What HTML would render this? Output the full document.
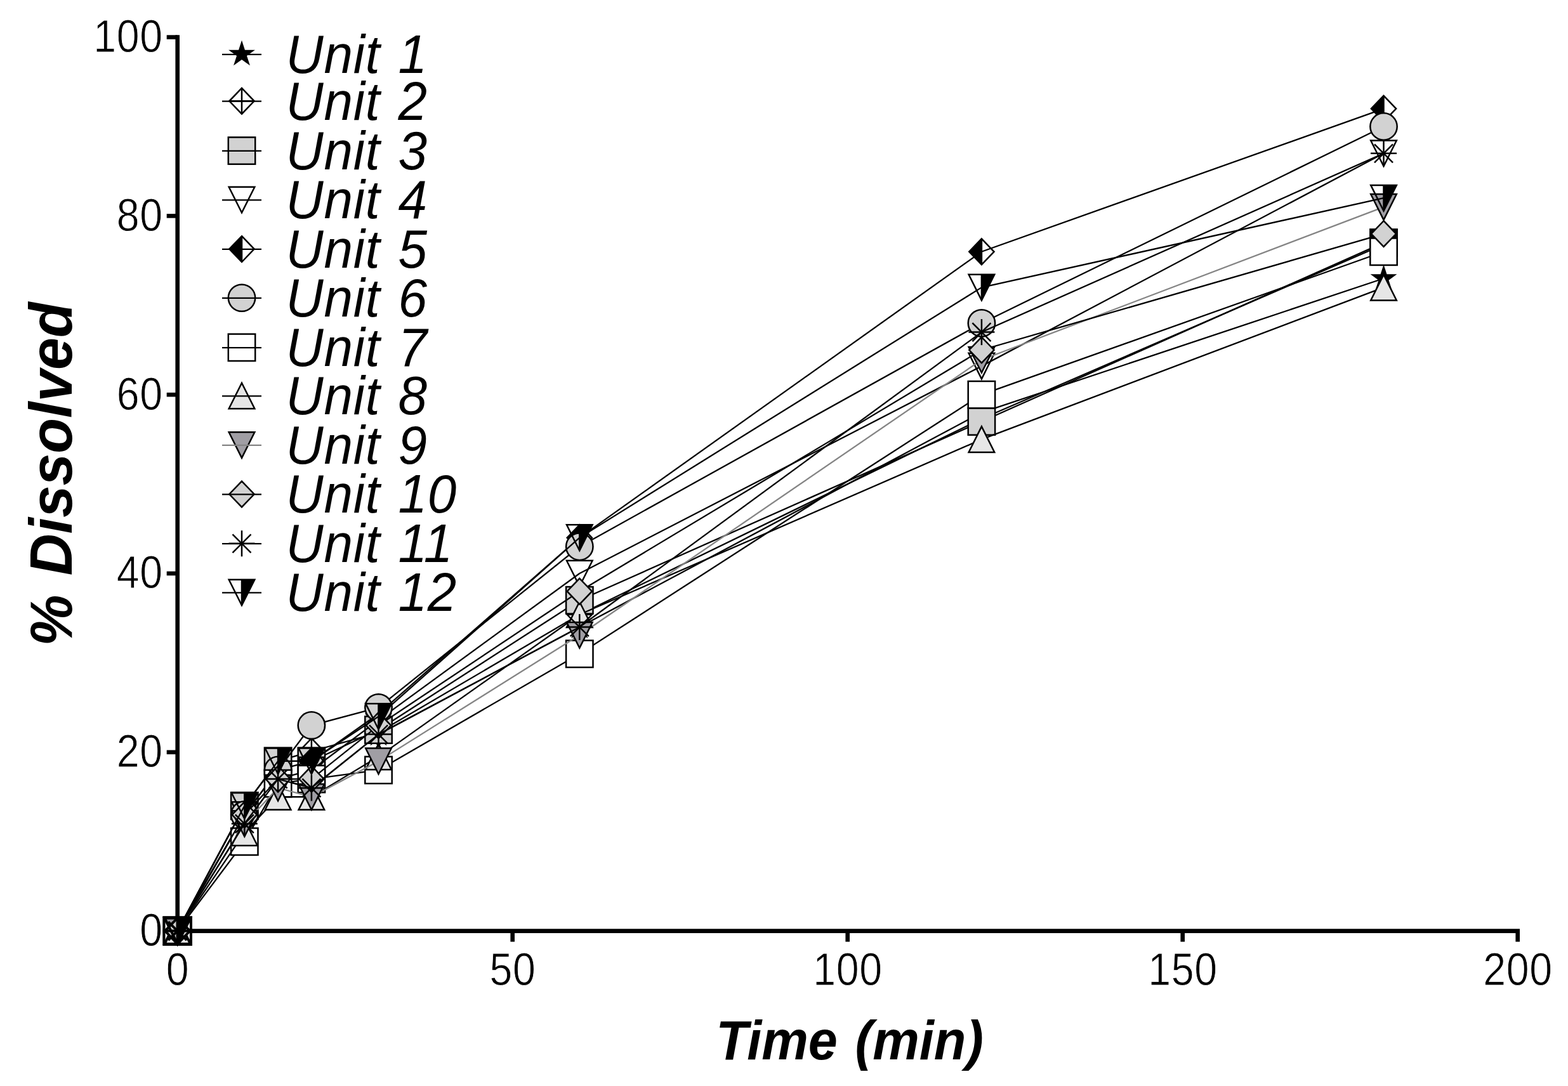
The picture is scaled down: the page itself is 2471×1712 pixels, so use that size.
<!DOCTYPE html>
<html lang="en"><head><meta charset="utf-8"><title>Dissolution profiles of individual units</title>
<style>
html,body{margin:0;padding:0;background:#fff;}
body{width:2471px;height:1712px;overflow:hidden;}
svg{display:block;}
text{font-family:"Liberation Sans",Arial,Helvetica,sans-serif;fill:#000;}
.tick{font-size:72.4px;letter-spacing:0.7px;}
.leg{font-size:85.2px;font-style:italic;word-spacing:4.6px;letter-spacing:0.9px;}
.xt{font-size:86.2px;word-spacing:5px;font-weight:bold;font-style:italic;}
.yt{font-size:95px;word-spacing:5px;font-weight:bold;font-style:italic;}
</style></head><body>
<svg width="2471" height="1712" viewBox="0 0 2471 1712">
<rect width="2471" height="1712" fill="#fff"/>
<g id="axes" stroke="#000" stroke-width="6.6" fill="none">
<line x1="279.7" y1="55.3" x2="279.7" y2="1470.9"/>
<line x1="276.4" y1="1467.6" x2="2395" y2="1467.6"/>
<line x1="262.7" y1="1467.6" x2="279.7" y2="1467.6"/>
<line x1="262.7" y1="1185.8" x2="279.7" y2="1185.8"/>
<line x1="262.7" y1="904" x2="279.7" y2="904"/>
<line x1="262.7" y1="622.2" x2="279.7" y2="622.2"/>
<line x1="262.7" y1="340.4" x2="279.7" y2="340.4"/>
<line x1="262.7" y1="58.6" x2="279.7" y2="58.6"/>
<line x1="279.7" y1="1467.6" x2="279.7" y2="1484.6"/>
<line x1="807.7" y1="1467.6" x2="807.7" y2="1484.6"/>
<line x1="1335.7" y1="1467.6" x2="1335.7" y2="1484.6"/>
<line x1="1863.7" y1="1467.6" x2="1863.7" y2="1484.6"/>
<line x1="2391.7" y1="1467.6" x2="2391.7" y2="1484.6"/>
</g>
<g id="series" fill="none">
<g>
<polyline points="279.7,1467.6 385.3,1298.52 438.1,1228.07 490.9,1242.16 596.5,1157.62 913.3,988.54 1546.9,650.38 2180.5,439.03" fill="none" stroke="#000" stroke-width="2.3" stroke-linejoin="round"/>
<polygon points="279.7,1445.6 284.64,1460.8 300.62,1460.8 287.69,1470.2 292.63,1485.4 279.7,1476 266.77,1485.4 271.71,1470.2 258.78,1460.8 274.76,1460.8" fill="#000"/>
<polygon points="385.3,1276.52 390.24,1291.72 406.22,1291.72 393.29,1301.12 398.23,1316.32 385.3,1306.92 372.37,1316.32 377.31,1301.12 364.38,1291.72 380.36,1291.72" fill="#000"/>
<polygon points="438.1,1206.07 443.04,1221.27 459.02,1221.27 446.09,1230.67 451.03,1245.87 438.1,1236.47 425.17,1245.87 430.11,1230.67 417.18,1221.27 433.16,1221.27" fill="#000"/>
<polygon points="490.9,1220.16 495.84,1235.36 511.82,1235.36 498.89,1244.76 503.83,1259.96 490.9,1250.56 477.97,1259.96 482.91,1244.76 469.98,1235.36 485.96,1235.36" fill="#000"/>
<polygon points="596.5,1135.62 601.44,1150.82 617.42,1150.82 604.49,1160.22 609.43,1175.42 596.5,1166.02 583.57,1175.42 588.51,1160.22 575.58,1150.82 591.56,1150.82" fill="#000"/>
<polygon points="913.3,966.54 918.24,981.74 934.22,981.74 921.29,991.14 926.23,1006.34 913.3,996.94 900.37,1006.34 905.31,991.14 892.38,981.74 908.36,981.74" fill="#000"/>
<polygon points="1546.9,628.38 1551.84,643.58 1567.82,643.58 1554.89,652.98 1559.83,668.18 1546.9,658.78 1533.97,668.18 1538.91,652.98 1525.98,643.58 1541.96,643.58" fill="#000"/>
<polygon points="2180.5,417.03 2185.44,432.23 2201.42,432.23 2188.49,441.63 2193.43,456.83 2180.5,447.43 2167.57,456.83 2172.51,441.63 2159.58,432.23 2175.56,432.23" fill="#000"/>
</g>
<g>
<polyline points="279.7,1467.6 385.3,1270.34 438.1,1199.89 490.9,1184.39 596.5,1154.8 913.3,968.81 1546.9,660.24 2180.5,385.49" fill="none" stroke="#000" stroke-width="2.3" stroke-linejoin="round"/>
<g><polygon points="279.7,1447.2 299.3,1467.6 279.7,1488 260.1,1467.6" fill="none" stroke="#000" stroke-width="4"/><line x1="260.1" y1="1467.6" x2="299.3" y2="1467.6" stroke="#000" stroke-width="4"/><line x1="279.7" y1="1447.2" x2="279.7" y2="1488" stroke="#000" stroke-width="4"/></g>
<g><polygon points="385.3,1249.94 404.9,1270.34 385.3,1290.74 365.7,1270.34" fill="none" stroke="#000" stroke-width="2.5"/><line x1="365.7" y1="1270.34" x2="404.9" y2="1270.34" stroke="#000" stroke-width="2.5"/><line x1="385.3" y1="1249.94" x2="385.3" y2="1290.74" stroke="#000" stroke-width="2.5"/></g>
<g><polygon points="438.1,1179.49 457.7,1199.89 438.1,1220.29 418.5,1199.89" fill="none" stroke="#000" stroke-width="2.5"/><line x1="418.5" y1="1199.89" x2="457.7" y2="1199.89" stroke="#000" stroke-width="2.5"/><line x1="438.1" y1="1179.49" x2="438.1" y2="1220.29" stroke="#000" stroke-width="2.5"/></g>
<g><polygon points="490.9,1163.99 510.5,1184.39 490.9,1204.79 471.3,1184.39" fill="none" stroke="#000" stroke-width="2.5"/><line x1="471.3" y1="1184.39" x2="510.5" y2="1184.39" stroke="#000" stroke-width="2.5"/><line x1="490.9" y1="1163.99" x2="490.9" y2="1204.79" stroke="#000" stroke-width="2.5"/></g>
<g><polygon points="596.5,1134.4 616.1,1154.8 596.5,1175.2 576.9,1154.8" fill="none" stroke="#000" stroke-width="2.5"/><line x1="576.9" y1="1154.8" x2="616.1" y2="1154.8" stroke="#000" stroke-width="2.5"/><line x1="596.5" y1="1134.4" x2="596.5" y2="1175.2" stroke="#000" stroke-width="2.5"/></g>
<g><polygon points="913.3,948.41 932.9,968.81 913.3,989.21 893.7,968.81" fill="none" stroke="#000" stroke-width="2.5"/><line x1="893.7" y1="968.81" x2="932.9" y2="968.81" stroke="#000" stroke-width="2.5"/><line x1="913.3" y1="948.41" x2="913.3" y2="989.21" stroke="#000" stroke-width="2.5"/></g>
<g><polygon points="1546.9,639.84 1566.5,660.24 1546.9,680.64 1527.3,660.24" fill="none" stroke="#000" stroke-width="2.5"/><line x1="1527.3" y1="660.24" x2="1566.5" y2="660.24" stroke="#000" stroke-width="2.5"/><line x1="1546.9" y1="639.84" x2="1546.9" y2="680.64" stroke="#000" stroke-width="2.5"/></g>
<g><polygon points="2180.5,365.09 2200.1,385.49 2180.5,405.89 2160.9,385.49" fill="none" stroke="#000" stroke-width="2.5"/><line x1="2160.9" y1="385.49" x2="2200.1" y2="385.49" stroke="#000" stroke-width="2.5"/><line x1="2180.5" y1="365.09" x2="2180.5" y2="405.89" stroke="#000" stroke-width="2.5"/></g>
</g>
<g>
<polyline points="279.7,1467.6 385.3,1270.34 438.1,1199.89 490.9,1199.89 596.5,1150.57 913.3,946.27 1546.9,664.47 2180.5,382.67" fill="none" stroke="#000" stroke-width="2.3" stroke-linejoin="round"/>
<rect x="258.5" y="1446.4" width="42.4" height="42.4" fill="#d2d2d2" stroke="#000" stroke-width="4" stroke-linejoin="miter"/>
<rect x="364.1" y="1249.14" width="42.4" height="42.4" fill="#d2d2d2" stroke="#000" stroke-width="2.5" stroke-linejoin="miter"/>
<rect x="416.9" y="1178.69" width="42.4" height="42.4" fill="#d2d2d2" stroke="#000" stroke-width="2.5" stroke-linejoin="miter"/>
<rect x="469.7" y="1178.69" width="42.4" height="42.4" fill="#d2d2d2" stroke="#000" stroke-width="2.5" stroke-linejoin="miter"/>
<rect x="575.3" y="1129.37" width="42.4" height="42.4" fill="#d2d2d2" stroke="#000" stroke-width="2.5" stroke-linejoin="miter"/>
<rect x="892.1" y="925.07" width="42.4" height="42.4" fill="#d2d2d2" stroke="#000" stroke-width="2.5" stroke-linejoin="miter"/>
<rect x="1525.7" y="643.27" width="42.4" height="42.4" fill="#d2d2d2" stroke="#000" stroke-width="2.5" stroke-linejoin="miter"/>
<rect x="2159.3" y="361.47" width="42.4" height="42.4" fill="#000" stroke="#000" stroke-width="2.5" stroke-linejoin="miter"/>
</g>
<g>
<polyline points="279.7,1467.6 385.3,1284.43 438.1,1228.07 490.9,1213.98 596.5,1135.08 913.3,904 1546.9,577.11 2180.5,241.77" fill="none" stroke="#000" stroke-width="2.3" stroke-linejoin="round"/>
<polygon points="259.4,1447.3 300,1447.3 279.7,1487.9" fill="none" stroke="#000" stroke-width="4"/>
<polygon points="365,1264.13 405.6,1264.13 385.3,1304.73" fill="none" stroke="#000" stroke-width="2.5"/>
<polygon points="417.8,1207.77 458.4,1207.77 438.1,1248.37" fill="none" stroke="#000" stroke-width="2.5"/>
<polygon points="470.6,1193.68 511.2,1193.68 490.9,1234.28" fill="none" stroke="#000" stroke-width="2.5"/>
<polygon points="576.2,1114.78 616.8,1114.78 596.5,1155.38" fill="none" stroke="#000" stroke-width="2.5"/>
<polygon points="893,883.7 933.6,883.7 913.3,924.3" fill="none" stroke="#000" stroke-width="2.5"/>
<polygon points="1526.6,556.81 1567.2,556.81 1546.9,597.41" fill="none" stroke="#000" stroke-width="2.5"/>
<polygon points="2160.2,221.47 2200.8,221.47 2180.5,262.07" fill="none" stroke="#000" stroke-width="2.5"/>
</g>
<g>
<polyline points="279.7,1467.6 385.3,1284.43 438.1,1213.98 490.9,1199.89 596.5,1125.21 913.3,847.64 1546.9,396.76 2180.5,171.32" fill="none" stroke="#000" stroke-width="2.3" stroke-linejoin="round"/>
<g><polygon points="279.7,1447.2 279.7,1488 260.1,1467.6" fill="#000"/><polygon points="279.7,1447.2 299.3,1467.6 279.7,1488 260.1,1467.6" fill="none" stroke="#000" stroke-width="4"/><line x1="279.7" y1="1447.2" x2="279.7" y2="1488" stroke="#000" stroke-width="4"/></g>
<g><polygon points="385.3,1264.03 385.3,1304.83 365.7,1284.43" fill="#000"/><polygon points="385.3,1264.03 404.9,1284.43 385.3,1304.83 365.7,1284.43" fill="none" stroke="#000" stroke-width="2.5"/><line x1="385.3" y1="1264.03" x2="385.3" y2="1304.83" stroke="#000" stroke-width="2.5"/></g>
<g><polygon points="438.1,1193.58 438.1,1234.38 418.5,1213.98" fill="#000"/><polygon points="438.1,1193.58 457.7,1213.98 438.1,1234.38 418.5,1213.98" fill="none" stroke="#000" stroke-width="2.5"/><line x1="438.1" y1="1193.58" x2="438.1" y2="1234.38" stroke="#000" stroke-width="2.5"/></g>
<g><polygon points="490.9,1179.49 490.9,1220.29 471.3,1199.89" fill="#000"/><polygon points="490.9,1179.49 510.5,1199.89 490.9,1220.29 471.3,1199.89" fill="none" stroke="#000" stroke-width="2.5"/><line x1="490.9" y1="1179.49" x2="490.9" y2="1220.29" stroke="#000" stroke-width="2.5"/></g>
<g><polygon points="596.5,1104.81 596.5,1145.61 576.9,1125.21" fill="#000"/><polygon points="596.5,1104.81 616.1,1125.21 596.5,1145.61 576.9,1125.21" fill="none" stroke="#000" stroke-width="2.5"/><line x1="596.5" y1="1104.81" x2="596.5" y2="1145.61" stroke="#000" stroke-width="2.5"/></g>
<g><polygon points="913.3,827.24 913.3,868.04 893.7,847.64" fill="#000"/><polygon points="913.3,827.24 932.9,847.64 913.3,868.04 893.7,847.64" fill="none" stroke="#000" stroke-width="2.5"/><line x1="913.3" y1="827.24" x2="913.3" y2="868.04" stroke="#000" stroke-width="2.5"/></g>
<g><polygon points="1546.9,376.36 1546.9,417.16 1527.3,396.76" fill="#000"/><polygon points="1546.9,376.36 1566.5,396.76 1546.9,417.16 1527.3,396.76" fill="none" stroke="#000" stroke-width="2.5"/><line x1="1546.9" y1="376.36" x2="1546.9" y2="417.16" stroke="#000" stroke-width="2.5"/></g>
<g><polygon points="2180.5,150.92 2180.5,191.72 2160.9,171.32" fill="#000"/><polygon points="2180.5,150.92 2200.1,171.32 2180.5,191.72 2160.9,171.32" fill="none" stroke="#000" stroke-width="2.5"/><line x1="2180.5" y1="150.92" x2="2180.5" y2="191.72" stroke="#000" stroke-width="2.5"/></g>
</g>
<g>
<polyline points="279.7,1467.6 385.3,1284.43 438.1,1213.98 490.9,1143.53 596.5,1115.35 913.3,861.73 1546.9,509.48 2180.5,199.5" fill="none" stroke="#000" stroke-width="2.3" stroke-linejoin="round"/>
<circle cx="279.7" cy="1467.6" r="21.2" fill="#d2d2d2" stroke="#000" stroke-width="4" stroke-linejoin="miter"/>
<circle cx="385.3" cy="1284.43" r="21.2" fill="#d2d2d2" stroke="#000" stroke-width="2.5" stroke-linejoin="miter"/>
<circle cx="438.1" cy="1213.98" r="21.2" fill="#d2d2d2" stroke="#000" stroke-width="2.5" stroke-linejoin="miter"/>
<circle cx="490.9" cy="1143.53" r="21.2" fill="#d2d2d2" stroke="#000" stroke-width="2.5" stroke-linejoin="miter"/>
<circle cx="596.5" cy="1115.35" r="21.2" fill="#d2d2d2" stroke="#000" stroke-width="2.5" stroke-linejoin="miter"/>
<circle cx="913.3" cy="861.73" r="21.2" fill="#d2d2d2" stroke="#000" stroke-width="2.5" stroke-linejoin="miter"/>
<circle cx="1546.9" cy="509.48" r="21.2" fill="#d2d2d2" stroke="#000" stroke-width="2.5" stroke-linejoin="miter"/>
<circle cx="2180.5" cy="199.5" r="21.2" fill="#d2d2d2" stroke="#000" stroke-width="2.5" stroke-linejoin="miter"/>
</g>
<g>
<polyline points="279.7,1467.6 385.3,1326.7 438.1,1235.12 490.9,1228.07 596.5,1213.98 913.3,1030.81 1546.9,622.2 2180.5,396.76" fill="none" stroke="#000" stroke-width="2.3" stroke-linejoin="round"/>
<rect x="258.5" y="1446.4" width="42.4" height="42.4" fill="#fff" stroke="#000" stroke-width="4" stroke-linejoin="miter"/>
<rect x="364.1" y="1305.5" width="42.4" height="42.4" fill="#fff" stroke="#000" stroke-width="2.5" stroke-linejoin="miter"/>
<rect x="416.9" y="1213.91" width="42.4" height="42.4" fill="#fff" stroke="#000" stroke-width="2.5" stroke-linejoin="miter"/>
<rect x="469.7" y="1206.87" width="42.4" height="42.4" fill="#fff" stroke="#000" stroke-width="2.5" stroke-linejoin="miter"/>
<rect x="575.3" y="1192.78" width="42.4" height="42.4" fill="#fff" stroke="#000" stroke-width="2.5" stroke-linejoin="miter"/>
<rect x="892.1" y="1009.61" width="42.4" height="42.4" fill="#fff" stroke="#000" stroke-width="2.5" stroke-linejoin="miter"/>
<rect x="1525.7" y="601" width="42.4" height="42.4" fill="#fff" stroke="#000" stroke-width="2.5" stroke-linejoin="miter"/>
<rect x="2159.3" y="375.56" width="42.4" height="42.4" fill="#fff" stroke="#000" stroke-width="2.5" stroke-linejoin="miter"/>
</g>
<g>
<polyline points="279.7,1467.6 385.3,1312.61 438.1,1256.25 490.9,1256.25 596.5,1192.84 913.3,968.81 1546.9,692.65 2180.5,453.12" fill="none" stroke="#000" stroke-width="2.3" stroke-linejoin="round"/>
<polygon points="259.4,1487.9 300,1487.9 279.7,1447.3" fill="#e6e6e6" stroke="#000" stroke-width="4"/>
<polygon points="365,1332.91 405.6,1332.91 385.3,1292.31" fill="#e6e6e6" stroke="#000" stroke-width="2.5"/>
<polygon points="417.8,1276.55 458.4,1276.55 438.1,1235.95" fill="#e6e6e6" stroke="#000" stroke-width="2.5"/>
<polygon points="470.6,1276.55 511.2,1276.55 490.9,1235.95" fill="#e6e6e6" stroke="#000" stroke-width="2.5"/>
<polygon points="576.2,1213.14 616.8,1213.14 596.5,1172.54" fill="#e6e6e6" stroke="#000" stroke-width="2.5"/>
<polygon points="893,989.11 933.6,989.11 913.3,948.51" fill="#e6e6e6" stroke="#000" stroke-width="2.5"/>
<polygon points="1526.6,712.95 1567.2,712.95 1546.9,672.35" fill="#e6e6e6" stroke="#000" stroke-width="2.5"/>
<polygon points="2160.2,473.42 2200.8,473.42 2180.5,432.82" fill="#e6e6e6" stroke="#000" stroke-width="2.5"/>
</g>
<g>
<polyline points="279.7,1467.6 385.3,1298.52 438.1,1242.16 490.9,1256.25 596.5,1199.89 913.3,1001.22 1546.9,567.25 2180.5,326.31" fill="none" stroke="#848484" stroke-width="2.3" stroke-linejoin="round"/>
<polygon points="259.4,1447.3 300,1447.3 279.7,1487.9" fill="#a09ea4" stroke="#000" stroke-width="4"/>
<polygon points="365,1278.22 405.6,1278.22 385.3,1318.82" fill="#a09ea4" stroke="#000" stroke-width="2.5"/>
<polygon points="417.8,1221.86 458.4,1221.86 438.1,1262.46" fill="#a09ea4" stroke="#000" stroke-width="2.5"/>
<polygon points="470.6,1235.95 511.2,1235.95 490.9,1276.55" fill="#a09ea4" stroke="#000" stroke-width="2.5"/>
<polygon points="576.2,1179.59 616.8,1179.59 596.5,1220.19" fill="#a09ea4" stroke="#000" stroke-width="2.5"/>
<polygon points="893,980.92 933.6,980.92 913.3,1021.52" fill="#a09ea4" stroke="#000" stroke-width="2.5"/>
<polygon points="1526.6,546.95 1567.2,546.95 1546.9,587.55" fill="#a09ea4" stroke="#000" stroke-width="2.5"/>
<polygon points="2160.2,306.01 2200.8,306.01 2180.5,346.61" fill="#a09ea4" stroke="#000" stroke-width="2.5"/>
</g>
<g>
<polyline points="279.7,1467.6 385.3,1284.43 438.1,1228.07 490.9,1228.07 596.5,1143.53 913.3,932.18 1546.9,551.75 2180.5,368.58" fill="none" stroke="#000" stroke-width="2.3" stroke-linejoin="round"/>
<polygon points="279.7,1447.2 299.3,1467.6 279.7,1488 260.1,1467.6" fill="#d2d2d2" stroke="#000" stroke-width="4"/>
<polygon points="385.3,1264.03 404.9,1284.43 385.3,1304.83 365.7,1284.43" fill="#d2d2d2" stroke="#000" stroke-width="2.5"/>
<polygon points="438.1,1207.67 457.7,1228.07 438.1,1248.47 418.5,1228.07" fill="#d2d2d2" stroke="#000" stroke-width="2.5"/>
<polygon points="490.9,1207.67 510.5,1228.07 490.9,1248.47 471.3,1228.07" fill="#d2d2d2" stroke="#000" stroke-width="2.5"/>
<polygon points="596.5,1123.13 616.1,1143.53 596.5,1163.93 576.9,1143.53" fill="#d2d2d2" stroke="#000" stroke-width="2.5"/>
<polygon points="913.3,911.78 932.9,932.18 913.3,952.58 893.7,932.18" fill="#d2d2d2" stroke="#000" stroke-width="2.5"/>
<polygon points="1546.9,531.35 1566.5,551.75 1546.9,572.15 1527.3,551.75" fill="#d2d2d2" stroke="#000" stroke-width="2.5"/>
<polygon points="2180.5,348.18 2200.1,368.58 2180.5,388.98 2160.9,368.58" fill="#d2d2d2" stroke="#000" stroke-width="2.5"/>
</g>
<g>
<polyline points="279.7,1467.6 385.3,1298.52 438.1,1228.07 490.9,1242.16 596.5,1157.62 913.3,988.54 1546.9,523.57 2180.5,241.77" fill="none" stroke="#000" stroke-width="2.3" stroke-linejoin="round"/>
<g><line x1="259.2" y1="1467.6" x2="300.2" y2="1467.6" stroke="#000" stroke-width="4"/><line x1="279.7" y1="1447.1" x2="279.7" y2="1488.1" stroke="#000" stroke-width="4"/><line x1="265.2" y1="1453.1" x2="294.2" y2="1482.1" stroke="#000" stroke-width="4"/><line x1="265.2" y1="1482.1" x2="294.2" y2="1453.1" stroke="#000" stroke-width="4"/></g>
<g><line x1="364.8" y1="1298.52" x2="405.8" y2="1298.52" stroke="#000" stroke-width="2.5"/><line x1="385.3" y1="1278.02" x2="385.3" y2="1319.02" stroke="#000" stroke-width="2.5"/><line x1="370.8" y1="1284.02" x2="399.8" y2="1313.02" stroke="#000" stroke-width="2.5"/><line x1="370.8" y1="1313.02" x2="399.8" y2="1284.02" stroke="#000" stroke-width="2.5"/></g>
<g><line x1="417.6" y1="1228.07" x2="458.6" y2="1228.07" stroke="#000" stroke-width="2.5"/><line x1="438.1" y1="1207.57" x2="438.1" y2="1248.57" stroke="#000" stroke-width="2.5"/><line x1="423.6" y1="1213.57" x2="452.6" y2="1242.57" stroke="#000" stroke-width="2.5"/><line x1="423.6" y1="1242.57" x2="452.6" y2="1213.57" stroke="#000" stroke-width="2.5"/></g>
<g><line x1="470.4" y1="1242.16" x2="511.4" y2="1242.16" stroke="#000" stroke-width="2.5"/><line x1="490.9" y1="1221.66" x2="490.9" y2="1262.66" stroke="#000" stroke-width="2.5"/><line x1="476.4" y1="1227.66" x2="505.4" y2="1256.66" stroke="#000" stroke-width="2.5"/><line x1="476.4" y1="1256.66" x2="505.4" y2="1227.66" stroke="#000" stroke-width="2.5"/></g>
<g><line x1="576" y1="1157.62" x2="617" y2="1157.62" stroke="#000" stroke-width="2.5"/><line x1="596.5" y1="1137.12" x2="596.5" y2="1178.12" stroke="#000" stroke-width="2.5"/><line x1="582" y1="1143.12" x2="611" y2="1172.12" stroke="#000" stroke-width="2.5"/><line x1="582" y1="1172.12" x2="611" y2="1143.12" stroke="#000" stroke-width="2.5"/></g>
<g><line x1="892.8" y1="988.54" x2="933.8" y2="988.54" stroke="#000" stroke-width="2.5"/><line x1="913.3" y1="968.04" x2="913.3" y2="1009.04" stroke="#000" stroke-width="2.5"/><line x1="898.8" y1="974.04" x2="927.8" y2="1003.04" stroke="#000" stroke-width="2.5"/><line x1="898.8" y1="1003.04" x2="927.8" y2="974.04" stroke="#000" stroke-width="2.5"/></g>
<g><line x1="1526.4" y1="523.57" x2="1567.4" y2="523.57" stroke="#000" stroke-width="2.5"/><line x1="1546.9" y1="503.07" x2="1546.9" y2="544.07" stroke="#000" stroke-width="2.5"/><line x1="1532.4" y1="509.07" x2="1561.4" y2="538.07" stroke="#000" stroke-width="2.5"/><line x1="1532.4" y1="538.07" x2="1561.4" y2="509.07" stroke="#000" stroke-width="2.5"/></g>
<g><line x1="2160" y1="241.77" x2="2201" y2="241.77" stroke="#000" stroke-width="2.5"/><line x1="2180.5" y1="221.27" x2="2180.5" y2="262.27" stroke="#000" stroke-width="2.5"/><line x1="2166" y1="227.27" x2="2195" y2="256.27" stroke="#000" stroke-width="2.5"/><line x1="2166" y1="256.27" x2="2195" y2="227.27" stroke="#000" stroke-width="2.5"/></g>
</g>
<g>
<polyline points="279.7,1467.6 385.3,1270.34 438.1,1199.89 490.9,1199.89 596.5,1129.44 913.3,847.64 1546.9,453.12 2180.5,312.22" fill="none" stroke="#000" stroke-width="2.3" stroke-linejoin="round"/>
<g><polygon points="279.7,1447.3 300,1447.3 279.7,1487.9" fill="#000"/><polygon points="259.4,1447.3 300,1447.3 279.7,1487.9" fill="none" stroke="#000" stroke-width="4"/><line x1="279.7" y1="1447.3" x2="279.7" y2="1487.9" stroke="#000" stroke-width="4"/></g>
<g><polygon points="385.3,1250.04 405.6,1250.04 385.3,1290.64" fill="#000"/><polygon points="365,1250.04 405.6,1250.04 385.3,1290.64" fill="none" stroke="#000" stroke-width="2.5"/><line x1="385.3" y1="1250.04" x2="385.3" y2="1290.64" stroke="#000" stroke-width="2.5"/></g>
<g><polygon points="438.1,1179.59 458.4,1179.59 438.1,1220.19" fill="#000"/><polygon points="417.8,1179.59 458.4,1179.59 438.1,1220.19" fill="none" stroke="#000" stroke-width="2.5"/><line x1="438.1" y1="1179.59" x2="438.1" y2="1220.19" stroke="#000" stroke-width="2.5"/></g>
<g><polygon points="490.9,1179.59 511.2,1179.59 490.9,1220.19" fill="#000"/><polygon points="470.6,1179.59 511.2,1179.59 490.9,1220.19" fill="none" stroke="#000" stroke-width="2.5"/><line x1="490.9" y1="1179.59" x2="490.9" y2="1220.19" stroke="#000" stroke-width="2.5"/></g>
<g><polygon points="596.5,1109.14 616.8,1109.14 596.5,1149.74" fill="#000"/><polygon points="576.2,1109.14 616.8,1109.14 596.5,1149.74" fill="none" stroke="#000" stroke-width="2.5"/><line x1="596.5" y1="1109.14" x2="596.5" y2="1149.74" stroke="#000" stroke-width="2.5"/></g>
<g><polygon points="913.3,827.34 933.6,827.34 913.3,867.94" fill="#000"/><polygon points="893,827.34 933.6,827.34 913.3,867.94" fill="none" stroke="#000" stroke-width="2.5"/><line x1="913.3" y1="827.34" x2="913.3" y2="867.94" stroke="#000" stroke-width="2.5"/></g>
<g><polygon points="1546.9,432.82 1567.2,432.82 1546.9,473.42" fill="#000"/><polygon points="1526.6,432.82 1567.2,432.82 1546.9,473.42" fill="none" stroke="#000" stroke-width="2.5"/><line x1="1546.9" y1="432.82" x2="1546.9" y2="473.42" stroke="#000" stroke-width="2.5"/></g>
<g><polygon points="2180.5,291.92 2200.8,291.92 2180.5,332.52" fill="#000"/><polygon points="2160.2,291.92 2200.8,291.92 2180.5,332.52" fill="none" stroke="#000" stroke-width="2.5"/><line x1="2180.5" y1="291.92" x2="2180.5" y2="332.52" stroke="#000" stroke-width="2.5"/></g>
</g>
</g>
<g>
<text class="tick" transform="translate(256.6 1491) scale(0.89 1)" text-anchor="end" stroke="#fff" stroke-width="0.9">0</text>
<text class="tick" transform="translate(256.6 1209.2) scale(0.89 1)" text-anchor="end" stroke="#fff" stroke-width="0.9">20</text>
<text class="tick" transform="translate(256.6 927.4) scale(0.89 1)" text-anchor="end" stroke="#fff" stroke-width="0.9">40</text>
<text class="tick" transform="translate(256.6 645.6) scale(0.89 1)" text-anchor="end" stroke="#fff" stroke-width="0.9">60</text>
<text class="tick" transform="translate(256.6 363.8) scale(0.89 1)" text-anchor="end" stroke="#fff" stroke-width="0.9">80</text>
<text class="tick" transform="translate(256.6 82) scale(0.89 1)" text-anchor="end" stroke="#fff" stroke-width="0.9">100</text>
<text class="tick" transform="translate(280 1552.8) scale(0.89 1)" text-anchor="middle" stroke="#fff" stroke-width="0.9">0</text>
<text class="tick" transform="translate(808 1552.8) scale(0.89 1)" text-anchor="middle" stroke="#fff" stroke-width="0.9">50</text>
<text class="tick" transform="translate(1336 1552.8) scale(0.89 1)" text-anchor="middle" stroke="#fff" stroke-width="0.9">100</text>
<text class="tick" transform="translate(1864 1552.8) scale(0.89 1)" text-anchor="middle" stroke="#fff" stroke-width="0.9">150</text>
<text class="tick" transform="translate(2392 1552.8) scale(0.89 1)" text-anchor="middle" stroke="#fff" stroke-width="0.9">200</text>
</g>
<text class="xt" transform="translate(1339 1669.5) scale(0.96 1)" text-anchor="middle">Time (min)</text>
<text class="yt" transform="translate(113 747.5) rotate(-90) scale(0.96 1)" text-anchor="middle">% Dissolved</text>
<g id="legend">
<g>
<polygon points="381,63.5 385.94,78.7 401.92,78.7 388.99,88.1 393.93,103.3 381,93.9 368.07,103.3 373.01,88.1 360.08,78.7 376.06,78.7" fill="#000"/>
<line x1="350" y1="85.8" x2="412" y2="85.8" stroke="#000" stroke-width="2.3"/>
<text class="leg" transform="translate(450.5 114.8) scale(0.96 1)" text-anchor="start">Unit 1</text>
</g>
<g>
<g><polygon points="381,138.9 400.6,159.3 381,179.7 361.4,159.3" fill="none" stroke="#000" stroke-width="2.5"/><line x1="361.4" y1="159.3" x2="400.6" y2="159.3" stroke="#000" stroke-width="2.5"/><line x1="381" y1="138.9" x2="381" y2="179.7" stroke="#000" stroke-width="2.5"/></g>
<line x1="350" y1="159.6" x2="412" y2="159.6" stroke="#000" stroke-width="2.3"/>
<text class="leg" transform="translate(450.5 188.6) scale(0.96 1)" text-anchor="start">Unit 2</text>
</g>
<g>
<rect x="359.8" y="216.4" width="42.4" height="42.4" fill="#d2d2d2" stroke="#000" stroke-width="2.5" stroke-linejoin="miter"/>
<line x1="350" y1="237.9" x2="412" y2="237.9" stroke="#000" stroke-width="2.3"/>
<text class="leg" transform="translate(450.5 266.9) scale(0.96 1)" text-anchor="start">Unit 3</text>
</g>
<g>
<polygon points="360.7,294.7 401.3,294.7 381,335.3" fill="none" stroke="#000" stroke-width="2.5"/>
<line x1="350" y1="315.3" x2="412" y2="315.3" stroke="#000" stroke-width="2.3"/>
<text class="leg" transform="translate(450.5 344.3) scale(0.96 1)" text-anchor="start">Unit 4</text>
</g>
<g>
<g><polygon points="381,372.2 381,413 361.4,392.6" fill="#000"/><polygon points="381,372.2 400.6,392.6 381,413 361.4,392.6" fill="none" stroke="#000" stroke-width="2.5"/><line x1="381" y1="372.2" x2="381" y2="413" stroke="#000" stroke-width="2.5"/></g>
<line x1="350" y1="392.9" x2="412" y2="392.9" stroke="#000" stroke-width="2.3"/>
<text class="leg" transform="translate(450.5 421.9) scale(0.96 1)" text-anchor="start">Unit 5</text>
</g>
<g>
<circle cx="381" cy="469.6" r="21.2" fill="#d2d2d2" stroke="#000" stroke-width="2.5" stroke-linejoin="miter"/>
<line x1="350" y1="469.9" x2="412" y2="469.9" stroke="#000" stroke-width="2.3"/>
<text class="leg" transform="translate(450.5 498.9) scale(0.96 1)" text-anchor="start">Unit 6</text>
</g>
<g>
<rect x="359.8" y="526.6" width="42.4" height="42.4" fill="#fff" stroke="#000" stroke-width="2.5" stroke-linejoin="miter"/>
<line x1="350" y1="548.1" x2="412" y2="548.1" stroke="#000" stroke-width="2.3"/>
<text class="leg" transform="translate(450.5 577.1) scale(0.96 1)" text-anchor="start">Unit 7</text>
</g>
<g>
<polygon points="360.7,644.3 401.3,644.3 381,603.7" fill="#e6e6e6" stroke="#000" stroke-width="2.5"/>
<line x1="350" y1="624.3" x2="412" y2="624.3" stroke="#000" stroke-width="2.3"/>
<text class="leg" transform="translate(450.5 653.3) scale(0.96 1)" text-anchor="start">Unit 8</text>
</g>
<g>
<polygon points="360.7,681.3 401.3,681.3 381,721.9" fill="#a09ea4" stroke="#000" stroke-width="2.5"/>
<line x1="350" y1="701.9" x2="412" y2="701.9" stroke="#848484" stroke-width="2.3"/>
<text class="leg" transform="translate(450.5 730.9) scale(0.96 1)" text-anchor="start">Unit 9</text>
</g>
<g>
<polygon points="381,758.6 400.6,779 381,799.4 361.4,779" fill="#d2d2d2" stroke="#000" stroke-width="2.5"/>
<line x1="350" y1="779.3" x2="412" y2="779.3" stroke="#000" stroke-width="2.3"/>
<text class="leg" transform="translate(450.5 808.3) scale(0.96 1)" text-anchor="start">Unit 10</text>
</g>
<g>
<g><line x1="360.5" y1="856.8" x2="401.5" y2="856.8" stroke="#000" stroke-width="2.5"/><line x1="381" y1="836.3" x2="381" y2="877.3" stroke="#000" stroke-width="2.5"/><line x1="366.5" y1="842.3" x2="395.5" y2="871.3" stroke="#000" stroke-width="2.5"/><line x1="366.5" y1="871.3" x2="395.5" y2="842.3" stroke="#000" stroke-width="2.5"/></g>
<line x1="350" y1="857.1" x2="412" y2="857.1" stroke="#000" stroke-width="2.3"/>
<text class="leg" transform="translate(450.5 886.1) scale(0.96 1)" text-anchor="start">Unit 11</text>
</g>
<g>
<g><polygon points="381,913.7 401.3,913.7 381,954.3" fill="#000"/><polygon points="360.7,913.7 401.3,913.7 381,954.3" fill="none" stroke="#000" stroke-width="2.5"/><line x1="381" y1="913.7" x2="381" y2="954.3" stroke="#000" stroke-width="2.5"/></g>
<line x1="350" y1="934.3" x2="412" y2="934.3" stroke="#000" stroke-width="2.3"/>
<text class="leg" transform="translate(450.5 963.3) scale(0.96 1)" text-anchor="start">Unit 12</text>
</g>
</g>
</svg>
</body></html>
